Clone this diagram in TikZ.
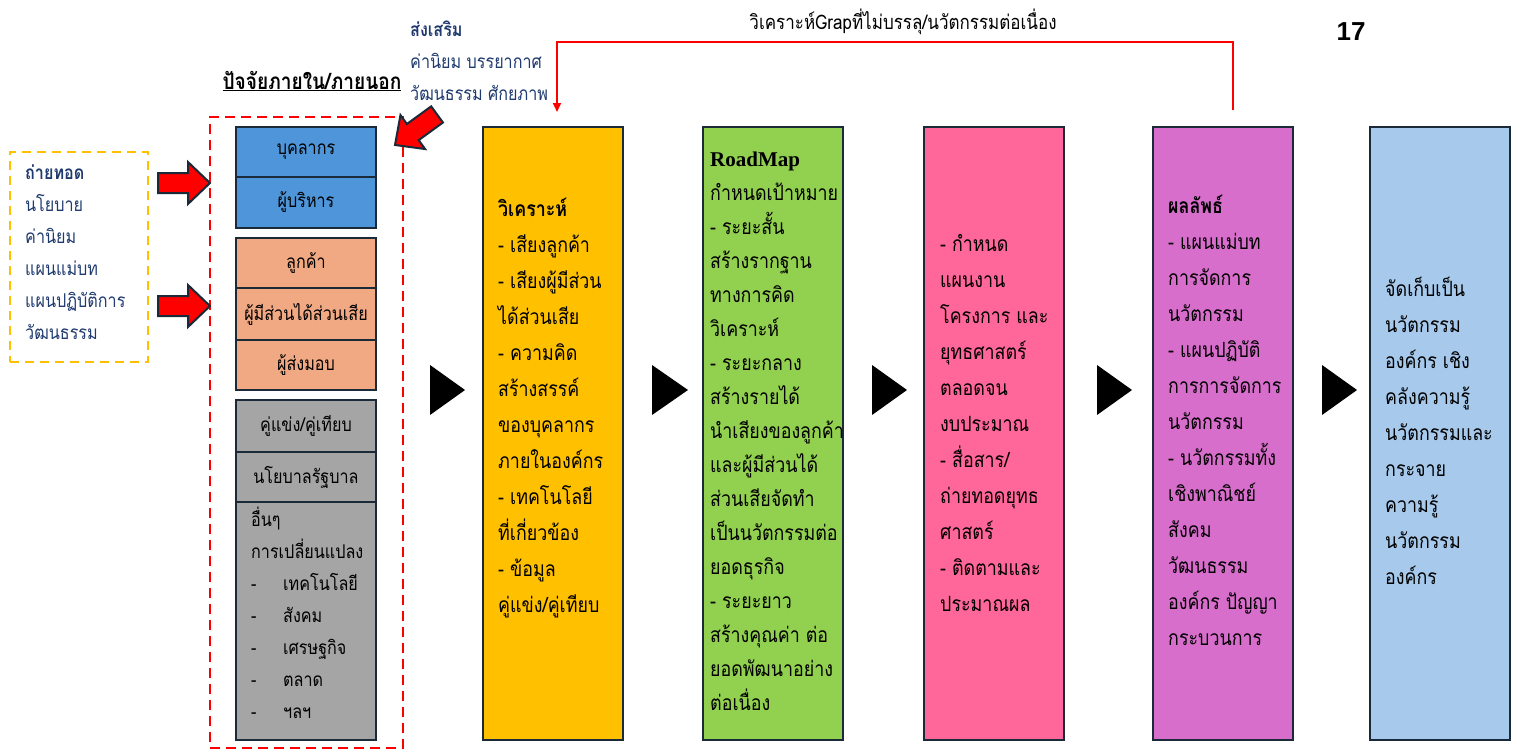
\documentclass[tikz,border=0pt]{standalone}
\usepackage{fontspec}
\setmainfont[Script=Thai,FakeStretch=0.85]{Loma}
\newfontfamily\numfont{Liberation Sans}
\newfontfamily\latinserif{Liberation Serif}
\usetikzlibrary{arrows.meta}
\definecolor{edgec}{HTML}{1B2A38}
\definecolor{navy}{HTML}{1F3A6E}
\definecolor{cblue}{HTML}{4E95D9}
\definecolor{corange}{HTML}{F1A983}
\definecolor{cgray}{HTML}{A5A5A5}
\definecolor{cyellow}{HTML}{FFC000}
\definecolor{cgreen}{HTML}{92D050}
\definecolor{cpink}{HTML}{FF6699}
\definecolor{cmagenta}{HTML}{D86ECC}
\definecolor{clight}{HTML}{A6C9EC}
\newcommand{\coltext}{\fontsize{21}{36}\selectfont}
\newcommand{\tightcoltext}{\fontsize{21}{34}\selectfont}
\newcommand{\sidetext}{\fontsize{19}{32}\selectfont}
\newcommand{\dashitem}[1]{\makebox[32pt][l]{-}#1}
\tikzset{
  colbox/.style={draw=edgec, line width=2pt, minimum width=140pt, minimum height=613pt, inner sep=0pt},
  factor/.style={draw=edgec, line width=2pt, minimum width=140pt, inner sep=0pt, font=\sidetext},
  coltxt/.style={anchor=north west, align=left, inner sep=0pt, font=\coltext},
  navytxt/.style={anchor=north west, align=left, inner sep=0pt, font=\sidetext, text=navy},
  playtri/.style={fill=black},
  feedback/.style={draw=red, line width=2pt, -{Triangle[length=9pt,width=8pt]}},
  blockarrow/.pic={
    \filldraw[fill=red, draw=edgec, line width=2pt, line join=miter]
      (0,0) -- (-22,-21) -- (-22,-10) -- (-52,-10) -- (-52,10) -- (-22,10) -- (-22,21) -- cycle;
  }
}
\begin{document}
\begin{tikzpicture}[x=1pt,y=-1pt]
\useasboundingbox (0,0) rectangle (1516,752);

% transfer list on the left
\node[draw=cyellow, line width=2pt, dash pattern=on 9pt off 6pt, minimum width=138pt, minimum height=210pt, inner sep=0pt] (transfer) at (79,257) {};
\node[navytxt] (transfert) at (25,157) {\strut\textbf{ถ่ายทอด}\\นโยบาย\\ค่านิยม\\แผนแม่บท\\แผนปฏิบัติการ\\วัฒนธรรม};

% internal / external factors
\node[draw=red, line width=2.5pt, dash pattern=on 10pt off 6pt, minimum width=193pt, minimum height=631pt, inner sep=0pt] (factors) at (306.5,432.5) {};
\node[anchor=base, inner sep=0pt, font=\fontsize{22.5}{26}\selectfont\bfseries] (factorst) at (312,89) {\underline{ปัจจัยภายใน/ภายนอก}};

\node[factor, fill=cblue, minimum height=50pt] (staff) at (306,152) {บุคลากร};
\node[factor, fill=cblue, minimum height=51pt] (exec) at (306,202.5) {ผู้บริหาร};
\node[factor, fill=corange, minimum height=50pt] (cust) at (306,263) {ลูกค้า};
\node[factor, fill=corange, minimum height=52pt] (stake) at (306,314) {ผู้มีส่วนได้ส่วนเสีย};
\node[factor, fill=corange, minimum height=50pt] (supp) at (306,365) {ผู้ส่งมอบ};
\node[factor, fill=cgray, minimum height=52pt] (comp) at (306,426) {คู่แข่ง/คู่เทียบ};
\node[factor, fill=cgray, minimum height=50pt] (gov) at (306,477) {นโยบาลรัฐบาล};
\node[factor, fill=cgray, minimum height=238pt] (other) at (306,621) {};
\node[anchor=north west, align=left, inner sep=0pt, font=\sidetext] (othert) at (251,504) {\strut อื่นๆ\\การเปลี่ยนแปลง\\\dashitem{เทคโนโลยี}\\\dashitem{สังคม}\\\dashitem{เศรษฐกิจ}\\\dashitem{ตลาด}\\\dashitem{ฯลฯ}};

% promotion note
\node[navytxt] (promote) at (410,14) {\strut\textbf{ส่งเสริม}\\ค่านิยม บรรยากาศ\\วัฒนธรรม ศักยภาพ};

% block arrows into the factors
\pic at (210,183) {blockarrow};
\pic at (210,306) {blockarrow};
\pic[rotate=216] at (395,145) {blockarrow};

% process columns
\node[colbox, fill=cyellow] (analyse) at (553,433.5) {};
\node[colbox, fill=cgreen] (roadmap) at (773,433.5) {};
\node[colbox, fill=cpink] (plan) at (994,433.5) {};
\node[colbox, fill=cmagenta] (result) at (1223,433.5) {};
\node[colbox, fill=clight] (store) at (1440,433.5) {};

\node[coltxt] (analyset) at (498,191) {\strut\textbf{วิเคราะห์}\\- เสียงลูกค้า\\- เสียงผู้มีส่วน\\ได้ส่วนเสีย\\- ความคิด\\สร้างสรรค์\\ของบุคลากร\\ภายในองค์กร\\- เทคโนโลยี\\ที่เกี่ยวข้อง\\- ข้อมูล\\คู่แข่ง/คู่เทียบ};
\node[coltxt, font=\tightcoltext] (roadmapt) at (710,142.4) {\strut{\latinserif\bfseries RoadMap}\\กำหนดเป้าหมาย\\- ระยะสั้น\\สร้างรากฐาน\\ทางการคิด\\วิเคราะห์\\- ระยะกลาง\\สร้างรายได้\\นำเสียงของลูกค้า\\และผู้มีส่วนได้\\ส่วนเสียจัดทำ\\เป็นนวัตกรรมต่อ\\ยอดธุรกิจ\\- ระยะยาว\\สร้างคุณค่า ต่อ\\ยอดพัฒนาอย่าง\\ต่อเนื่อง};
\node[coltxt] (plant) at (940,226) {\strut - กำหนด\\แผนงาน\\โครงการ และ\\ยุทธศาสตร์\\ตลอดจน\\งบประมาณ\\- สื่อสาร/\\ถ่ายทอดยุทธ\\ศาสตร์\\- ติดตามและ\\ประมาณผล};
\node[coltxt] (resultt) at (1168,188) {\strut\textbf{ผลลัพธ์}\\- แผนแม่บท\\การจัดการ\\นวัตกรรม\\- แผนปฏิบัติ\\การการจัดการ\\นวัตกรรม\\- นวัตกรรมทั้ง\\เชิงพาณิชย์\\สังคม\\วัฒนธรรม\\องค์กร ปัญญา\\กระบวนการ};
\node[coltxt] (storet) at (1385,271) {\strut จัดเก็บเป็น\\นวัตกรรม\\องค์กร เชิง\\คลังความรู้\\นวัตกรรมและ\\กระจาย\\ความรู้\\นวัตกรรม\\องค์กร};

% flow markers between the columns
\fill[playtri] (430,365) -- (465,390) -- (430,415) -- cycle;
\fill[playtri] (652,365) -- (688,390) -- (652,415) -- cycle;
\fill[playtri] (872,365) -- (907,390) -- (872,415) -- cycle;
\fill[playtri] (1097,365) -- (1132,390) -- (1097,415) -- cycle;
\fill[playtri] (1322,365) -- (1357,390) -- (1322,415) -- cycle;

% feedback loop
\coordinate (fbstart) at (1233,110);
\coordinate (fbend) at (557,112);
\draw[feedback] (fbstart) -- ++(0,-68) -| (fbend);
\node[anchor=center, inner sep=0pt, font=\fontsize{20}{23}\selectfont] (fblabel) at (903,22) {วิเคราะห์Grapที่ไม่บรรลุ/นวัตกรรมต่อเนื่อง};

% page number
\node[inner sep=0pt, font=\numfont\fontsize{26}{30}\selectfont\bfseries] (pageno) at (1351,32) {17};
\end{tikzpicture}
\end{document}
